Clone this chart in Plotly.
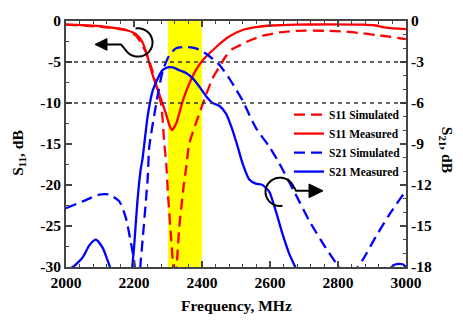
import numpy as np
import plotly.graph_objects as go

# ---------------- data ----------------
s11_sim_f = [2000, 2100, 2176, 2206, 2235, 2255, 2265, 2280, 2289, 2295, 2300, 2309, 2314, 2320, 2326, 2333, 2345, 2353, 2363, 2392, 2412, 2431, 2451, 2470, 2490, 2510, 2539, 2578, 2627, 2676, 2774, 2823, 2872, 2921, 3000]
s11_sim = [-0.45, -0.7, -1.1, -1.8, -3.8, -6.2, -7.8, -10.2, -14.9, -17.5, -21.2, -26.4, -29.2, -31.5, -29.5, -25.2, -20.5, -18.0, -14.9, -11.3, -9.0, -7.0, -5.6, -4.3, -3.4, -3.0, -2.4, -1.8, -1.4, -1.2, -1.2, -1.3, -1.5, -1.75, -2.2]

s11_meas_f = [2000, 2050, 2100, 2150, 2176, 2206, 2225, 2240, 2255, 2275, 2294, 2305, 2312, 2324, 2343, 2363, 2382, 2402, 2441, 2480, 2519, 2558, 2607, 2676, 2774, 2872, 2911, 2941, 3000]
s11_meas = [-0.45, -0.5, -0.63, -0.9, -1.1, -1.6, -2.6, -4.4, -6.6, -9.0, -11.3, -12.8, -13.3, -12.5, -9.8, -7.6, -6.0, -4.8, -3.2, -1.9, -1.1, -0.75, -0.55, -0.45, -0.42, -0.45, -0.55, -0.8, -1.0]

s21_sim_f = [2000, 2049, 2098, 2127, 2157, 2176, 2190, 2200, 2208, 2215, 2220, 2225, 2240, 2245, 2265, 2284, 2304, 2324, 2353, 2382, 2412, 2451, 2480, 2500, 2519, 2558, 2598, 2627, 2686, 2715, 2764, 2803, 2835, 2872, 2911, 2950, 3000]
s21_sim = [-13.7, -13.2, -12.7, -12.7, -13.2, -14.4, -16.1, -17.5, -19.0, -18.8, -17.5, -16.1, -11.6, -9.2, -6.1, -3.7, -2.5, -2.0, -1.9, -2.0, -2.4, -3.2, -4.2, -5.0, -5.8, -7.8, -9.2, -10.4, -13.2, -14.6, -16.6, -18.0, -18.7, -17.5, -15.8, -14.2, -12.4]

s21_meas_f = [2000, 2020, 2049, 2069, 2088, 2108, 2122, 2132, 2160, 2190, 2196, 2201, 2210, 2220, 2225, 2240, 2255, 2270, 2284, 2299, 2314, 2333, 2353, 2373, 2392, 2412, 2431, 2451, 2471, 2490, 2505, 2519, 2539, 2558, 2578, 2598, 2617, 2637, 2656, 2676, 2700, 2800, 2900, 2950, 2970, 2990, 3000]
s21_meas = [-18.2, -18.0, -17.3, -16.4, -16.0, -16.6, -17.5, -18.2, -20.0, -19.0, -17.7, -16.3, -13.2, -10.8, -10.1, -7.0, -5.1, -4.2, -3.6, -3.4, -3.4, -3.6, -3.8, -4.2, -4.8, -5.5, -6.0, -6.2, -6.8, -8.0, -9.2, -10.4, -11.6, -11.9, -12.0, -12.5, -13.9, -15.6, -17.0, -18.1, -19.5, -21.0, -20.0, -18.2, -17.8, -17.8, -18.0]

x_ticks = [2000, 2200, 2400, 2600, 2800, 3000]
y1_ticks = [0, -5, -10, -15, -20, -25, -30]
y2_ticks = [0, -3, -6, -9, -12, -15, -18]
band = [2300, 2400]
ref_lines = [-5, -10]

# ---------------- layout geometry ----------------
W, H = 463, 320
L, R, T, B = 66, 57, 15, 53
PW, PH = W - L - R, H - T - B

def px(x, y):
    return (x - L) / PW, 1 - (y - T) / PH

FONT = "Liberation Serif"
fig = go.Figure()

dash = "11px,6px"
fig.add_trace(go.Scatter(x=s11_sim_f, y=s11_sim, mode="lines", name="S11 Simulated",
                         line=dict(color="#ff0000", width=2.3, dash=dash, shape="spline", smoothing=0.6)))
fig.add_trace(go.Scatter(x=s11_meas_f, y=s11_meas, mode="lines", name="S11 Measured",
                         line=dict(color="#ff0000", width=2.3, shape="spline", smoothing=0.6)))
fig.add_trace(go.Scatter(x=s21_sim_f, y=s21_sim, mode="lines", name="S21 Simulated", yaxis="y2",
                         line=dict(color="#0000ff", width=2.3, dash=dash, shape="spline", smoothing=0.6)))
fig.add_trace(go.Scatter(x=s21_meas_f, y=s21_meas, mode="lines", name="S21 Measured", yaxis="y2",
                         line=dict(color="#0000ff", width=2.3, shape="spline", smoothing=0.6)))

shapes = []
shapes.append(dict(type="rect", xref="x", yref="paper", x0=band[0], x1=band[1], y0=0, y1=1,
                   fillcolor="#ffff00", line=dict(width=0), layer="below"))
for v in ref_lines:
    shapes.append(dict(type="line", xref="paper", yref="y", x0=0, x1=1, y0=v, y1=v,
                       line=dict(color="#333333", width=1.3, dash="4px,4px")))

def arc_path(cx, cy, r, a0, a1, extra):
    th = np.radians(np.linspace(a0, a1, 40))
    pts = [(cx + r * np.cos(t), cy + r * np.sin(t)) for t in th] + extra
    s = ""
    for i, (x, y) in enumerate(pts):
        X, Y = px(x, y)
        s += ("M" if i == 0 else "L") + f"{X:.4f},{Y:.4f} "
    return s

def tri(tip, base_x, cy, hh):
    a = px(*tip); b = px(base_x, cy - hh); c = px(base_x, cy + hh)
    return f"M{a[0]:.4f},{a[1]:.4f} L{b[0]:.4f},{b[1]:.4f} L{c[0]:.4f},{c[1]:.4f} Z"

# left-pointing loop arrow
shapes.append(dict(type="path", xref="paper", yref="paper",
                   path=arc_path(138, 37, 14.5, -100, 140, [(121, 39), (106, 39)]),
                   line=dict(color="black", width=2)))
shapes.append(dict(type="path", xref="paper", yref="paper", path=tri((95, 39), 107, 39, 6),
                   fillcolor="black", line=dict(color="black", width=1)))
# right-pointing loop arrow
shapes.append(dict(type="path", xref="paper", yref="paper",
                   path=arc_path(280, 190, 14.5, 80, 330, [(296, 189), (310, 189)]),
                   line=dict(color="black", width=2)))
shapes.append(dict(type="path", xref="paper", yref="paper", path=tri((323, 189), 309, 189, 7),
                   fillcolor="black", line=dict(color="black", width=1)))

tf = dict(family=FONT, size=15.5, color="black", weight="bold")
axcol = "#444444"

fig.update_layout(
    width=W, height=H, margin=dict(l=L, r=R, t=T, b=B),
    paper_bgcolor="white", plot_bgcolor="white",
    shapes=shapes, showlegend=True,
    xaxis=dict(range=[2000, 3000], tickvals=x_ticks, ticktext=[str(v) for v in x_ticks],
               ticks="inside", ticklen=6, tickwidth=1.5, tickcolor=axcol,
               showline=True, linecolor=axcol, linewidth=2, mirror="ticks",
               showgrid=False, zeroline=False, tickfont=tf, ticklabelstandoff=0,
               minor=dict(dtick=40, ticks="inside", ticklen=3, tickwidth=1.2, tickcolor=axcol)),
    yaxis=dict(range=[-30, 0], tickvals=y1_ticks, ticktext=[str(v) for v in y1_ticks],
               ticks="inside", ticklen=6, tickwidth=1.5, tickcolor=axcol,
               showline=True, linecolor=axcol, linewidth=2,
               showgrid=False, zeroline=False, tickfont=tf,
               minor=dict(dtick=2.5, ticks="inside", ticklen=3, tickwidth=1.2, tickcolor=axcol)),
    yaxis2=dict(range=[-18, 0], overlaying="y", side="right",
                tickvals=y2_ticks, ticktext=[str(v) for v in y2_ticks],
                ticks="inside", ticklen=6, tickwidth=1.5, tickcolor=axcol,
                showline=True, linecolor=axcol, linewidth=2,
                showgrid=False, zeroline=False, tickfont=tf,
                minor=dict(dtick=1, ticks="inside", ticklen=3, tickwidth=1.2, tickcolor=axcol)),
    legend=dict(x=px(289, 0)[0], y=px(0, 96)[1], xanchor="left", yanchor="top",
                bgcolor="rgba(0,0,0,0)", font=dict(family=FONT, size=11.5, color="black", weight="bold"),
                itemwidth=30, tracegroupgap=0),
    annotations=[
        dict(text="Frequency, MHz", xref="paper", yref="paper", x=px(236, 0)[0], y=px(0, 306)[1],
             xanchor="center", yanchor="middle",
             showarrow=False, font=dict(family=FONT, size=15.5, color="black", weight="bold")),
        dict(text="S<sub>11</sub>, dB", xref="paper", yref="paper", x=px(19, 0)[0], y=px(0, 150)[1],
             xanchor="center", yanchor="middle",
             showarrow=False, textangle=-90, font=dict(family=FONT, size=15.5, color="black", weight="bold")),
        dict(text="S<sub>21</sub>, dB", xref="paper", yref="paper", x=px(446, 0)[0], y=px(0, 147)[1],
             xanchor="center", yanchor="middle",
             showarrow=False, textangle=90, font=dict(family=FONT, size=15.5, color="black", weight="bold")),
    ],
)

fig.write_html("out.html")
